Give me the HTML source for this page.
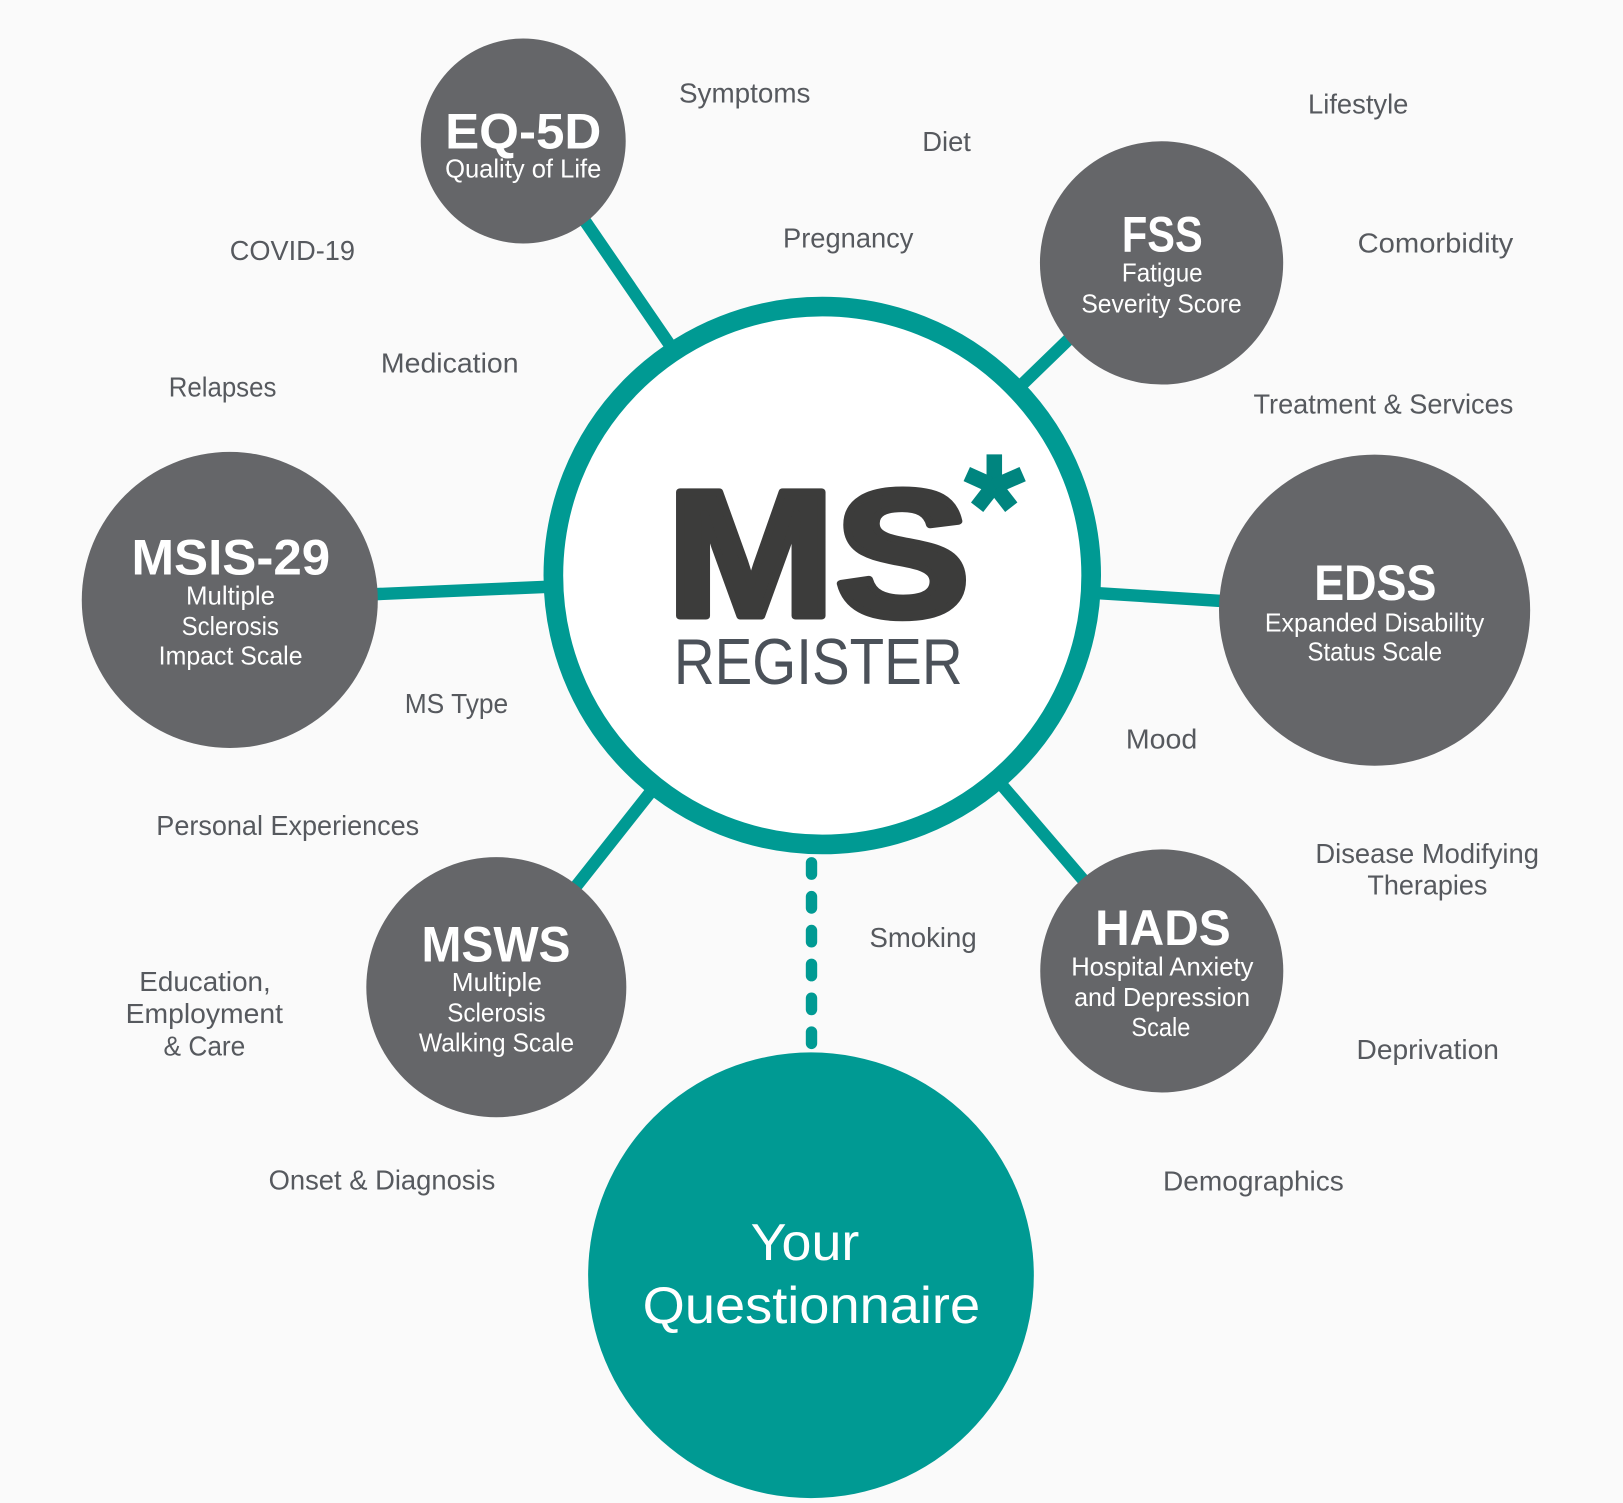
<!DOCTYPE html>
<html>
<head>
<meta charset="utf-8">
<style>
  html,body{margin:0;padding:0;background:#fafafa;}
  svg{display:block;}
  .lbl{font-family:"Liberation Sans",sans-serif;font-size:26.5px;fill:#56595e;}
  .ttl{font-family:"Liberation Sans",sans-serif;font-size:48px;font-weight:bold;fill:#ffffff;text-anchor:middle;}
  .sub{font-family:"Liberation Sans",sans-serif;font-size:25px;fill:#ffffff;text-anchor:middle;}
</style>
</head>
<body>
<svg width="1623" height="1503" viewBox="0 0 1568 1452" preserveAspectRatio="none" xmlns="http://www.w3.org/2000/svg">
  <rect x="0" y="0" width="1568" height="1452" fill="#fafafa"/>

  <!-- connectors -->
  <g stroke="#009a93" stroke-width="12" stroke-linecap="butt">
    <line x1="512" y1="136" x2="660" y2="352"/>
    <line x1="1122" y1="241" x2="940" y2="417.5"/>
    <line x1="1328" y1="590" x2="1040" y2="571.7"/>
    <line x1="222" y1="580" x2="550" y2="566"/>
    <line x1="1122" y1="938" x2="950" y2="737.6"/>
    <line x1="480" y1="953" x2="660" y2="725.4"/>
  </g>

  <!-- dashed connector to questionnaire -->
  <line x1="784" y1="833.5" x2="784" y2="1008" stroke="#009a93" stroke-width="11" stroke-linecap="round" stroke-dasharray="11 21.7"/>

  <!-- central ring -->
  <circle cx="794.4" cy="556" r="259.8" fill="#ffffff" stroke="#009a93" stroke-width="19"/>

  <!-- MS logo -->
  <text x="644" y="595" font-family="Liberation Sans, sans-serif" font-weight="bold" font-size="174" fill="#3c3c3b" stroke="#3c3c3b" stroke-width="7" stroke-linejoin="round" textLength="293" lengthAdjust="spacingAndGlyphs">MS</text>
  <text x="651" y="661" font-family="Liberation Sans, sans-serif" font-size="63" fill="#4b5159" textLength="279" lengthAdjust="spacingAndGlyphs">REGISTER</text>
  <g stroke="#00857f" stroke-width="15" stroke-linecap="butt">
    <line x1="960.6" y1="474" x2="960.6" y2="439"/>
    <line x1="960.6" y1="470" x2="934" y2="458"/>
    <line x1="960.6" y1="470" x2="988" y2="458"/>
    <line x1="958" y1="472" x2="944" y2="490"/>
    <line x1="963" y1="472" x2="977" y2="490"/>
  </g>

  <!-- satellite circles -->
  <g fill="#656669">
    <circle cx="505.5" cy="136.2" r="99"/>
    <circle cx="1122.2" cy="254" r="117.5"/>
    <circle cx="1328" cy="589.5" r="150.3"/>
    <circle cx="1122.4" cy="938" r="117.4"/>
    <circle cx="479.5" cy="953.7" r="125.6"/>
    <circle cx="222" cy="579.6" r="143"/>
  </g>
  <circle cx="783.5" cy="1232" r="215.3" fill="#009a93"/>

  <!-- EQ-5D -->
  <text class="ttl" x="505.5" y="143.3" textLength="151" lengthAdjust="spacingAndGlyphs">EQ-5D</text>
  <text class="sub" x="505.5" y="171.3" textLength="151" lengthAdjust="spacingAndGlyphs">Quality of Life</text>

  <!-- FSS -->
  <text class="ttl" x="1122.9" y="243" textLength="78" lengthAdjust="spacingAndGlyphs">FSS</text>
  <text class="sub" x="1122.9" y="272" textLength="78" lengthAdjust="spacingAndGlyphs">Fatigue</text>
  <text class="sub" x="1122.2" y="302" textLength="155" lengthAdjust="spacingAndGlyphs">Severity Score</text>

  <!-- EDSS -->
  <text class="ttl" x="1328.7" y="579.7" textLength="118" lengthAdjust="spacingAndGlyphs">EDSS</text>
  <text class="sub" x="1328" y="610" textLength="212" lengthAdjust="spacingAndGlyphs">Expanded Disability</text>
  <text class="sub" x="1328.2" y="638.2" textLength="130" lengthAdjust="spacingAndGlyphs">Status Scale</text>

  <!-- HADS -->
  <text class="ttl" x="1123.5" y="913" textLength="131" lengthAdjust="spacingAndGlyphs">HADS</text>
  <text class="sub" x="1122.9" y="942.6" textLength="176" lengthAdjust="spacingAndGlyphs">Hospital Anxiety</text>
  <text class="sub" x="1122.7" y="972" textLength="170" lengthAdjust="spacingAndGlyphs">and Depression</text>
  <text class="sub" x="1121.5" y="1001" textLength="57" lengthAdjust="spacingAndGlyphs">Scale</text>

  <!-- MSWS -->
  <text class="ttl" x="479.2" y="929" textLength="144" lengthAdjust="spacingAndGlyphs">MSWS</text>
  <text class="sub" x="480" y="957.4" textLength="87" lengthAdjust="spacingAndGlyphs">Multiple</text>
  <text class="sub" x="479.6" y="987" textLength="95" lengthAdjust="spacingAndGlyphs">Sclerosis</text>
  <text class="sub" x="479.7" y="1016" textLength="150" lengthAdjust="spacingAndGlyphs">Walking Scale</text>

  <!-- MSIS-29 -->
  <text class="ttl" x="223" y="554.8" textLength="192" lengthAdjust="spacingAndGlyphs">MSIS-29</text>
  <text class="sub" x="222.7" y="584" textLength="86" lengthAdjust="spacingAndGlyphs">Multiple</text>
  <text class="sub" x="222.5" y="613.5" textLength="94" lengthAdjust="spacingAndGlyphs">Sclerosis</text>
  <text class="sub" x="222.8" y="641.8" textLength="139" lengthAdjust="spacingAndGlyphs">Impact Scale</text>

  <!-- Your Questionnaire -->
  <text x="777.7" y="1217.2" font-family="Liberation Sans, sans-serif" font-size="50" fill="#ffffff" text-anchor="middle" textLength="105" lengthAdjust="spacingAndGlyphs">Your</text>
  <text x="783.9" y="1278" font-family="Liberation Sans, sans-serif" font-size="50" fill="#ffffff" text-anchor="middle" textLength="326" lengthAdjust="spacingAndGlyphs">Questionnaire</text>

  <!-- outer labels -->
  <text class="lbl" x="656" y="99" textLength="127" lengthAdjust="spacingAndGlyphs">Symptoms</text>
  <text class="lbl" x="891" y="146" textLength="47" lengthAdjust="spacingAndGlyphs">Diet</text>
  <text class="lbl" x="1263.7" y="109.5" textLength="97" lengthAdjust="spacingAndGlyphs">Lifestyle</text>
  <text class="lbl" x="756.5" y="239" textLength="126" lengthAdjust="spacingAndGlyphs">Pregnancy</text>
  <text class="lbl" x="222" y="251" textLength="121" lengthAdjust="spacingAndGlyphs">COVID-19</text>
  <text class="lbl" x="1311.6" y="243.8" textLength="150.4" lengthAdjust="spacingAndGlyphs">Comorbidity</text>
  <text class="lbl" x="368" y="360" textLength="133" lengthAdjust="spacingAndGlyphs">Medication</text>
  <text class="lbl" x="163" y="383" textLength="104" lengthAdjust="spacingAndGlyphs">Relapses</text>
  <text class="lbl" x="1211" y="399.3" textLength="251" lengthAdjust="spacingAndGlyphs">Treatment &amp; Services</text>
  <text class="lbl" x="391" y="688.6" textLength="100" lengthAdjust="spacingAndGlyphs">MS Type</text>
  <text class="lbl" x="1087.7" y="723" textLength="69" lengthAdjust="spacingAndGlyphs">Mood</text>
  <text class="lbl" x="151" y="806.7" textLength="254" lengthAdjust="spacingAndGlyphs">Personal Experiences</text>
  <text class="lbl" x="1270.8" y="833.9" textLength="216" lengthAdjust="spacingAndGlyphs">Disease Modifying</text>
  <text class="lbl" x="1321" y="864" textLength="116" lengthAdjust="spacingAndGlyphs">Therapies</text>
  <text class="lbl" x="840" y="915" textLength="103.6" lengthAdjust="spacingAndGlyphs">Smoking</text>
  <text class="lbl" x="134.6" y="957.4" textLength="127" lengthAdjust="spacingAndGlyphs">Education,</text>
  <text class="lbl" x="121.4" y="988.1" textLength="152" lengthAdjust="spacingAndGlyphs">Employment</text>
  <text class="lbl" x="158" y="1019.6" textLength="79" lengthAdjust="spacingAndGlyphs">&amp; Care</text>
  <text class="lbl" x="1310.6" y="1023" textLength="137.5" lengthAdjust="spacingAndGlyphs">Deprivation</text>
  <text class="lbl" x="259.5" y="1149" textLength="219" lengthAdjust="spacingAndGlyphs">Onset &amp; Diagnosis</text>
  <text class="lbl" x="1123.6" y="1150" textLength="174.7" lengthAdjust="spacingAndGlyphs">Demographics</text>
</svg>
</body>
</html>
